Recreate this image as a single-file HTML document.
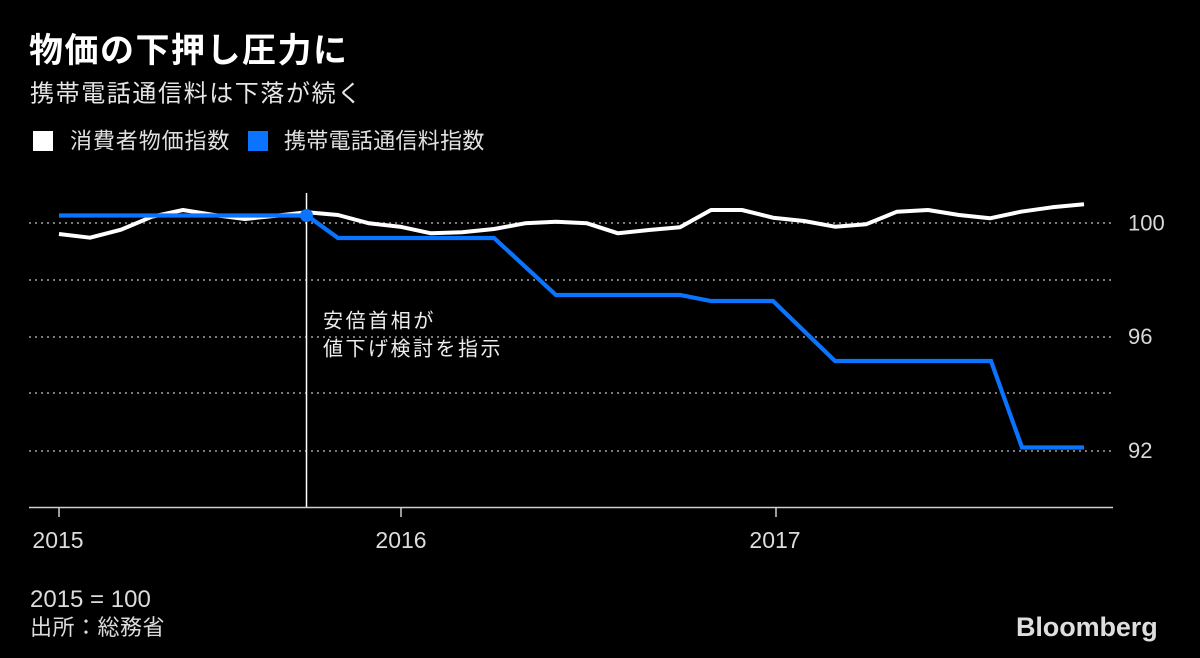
<!DOCTYPE html>
<html><head><meta charset="utf-8"><style>
html,body{margin:0;padding:0;background:#000;}
svg{display:block;}
text{font-family:"Liberation Sans","Noto Sans CJK JP",sans-serif;}
</style></head><body>
<svg width="1200" height="658" viewBox="0 0 1200 658" xmlns="http://www.w3.org/2000/svg">
<rect width="1200" height="658" fill="#000"/>
<text x="29" y="62" font-size="34" font-weight="bold" letter-spacing="1.5" fill="#fff">物価の下押し圧力に</text>
<text x="30" y="101.5" font-size="24" letter-spacing="1.6" fill="#e6e6e6">携帯電話通信料は下落が続く</text>
<rect x="33" y="131" width="20" height="20" fill="#fff"/>
<text x="70" y="148.5" font-size="22" letter-spacing="0.9" fill="#e0e0e0">消費者物価指数</text>
<rect x="248" y="131" width="20" height="20" fill="#0a74ff"/>
<text x="284" y="148.5" font-size="22" letter-spacing="0.3" fill="#e0e0e0">携帯電話通信料指数</text>
<g stroke="#7a7a7a" stroke-width="2" stroke-dasharray="2,4">
<line x1="29" y1="223" x2="1113" y2="223"/>
<line x1="29" y1="280" x2="1113" y2="280"/>
<line x1="29" y1="337" x2="1113" y2="337"/>
<line x1="29" y1="393" x2="1113" y2="393"/>
<line x1="29" y1="451" x2="1113" y2="451"/>
</g>
<g font-size="22" fill="#d8d8d8">
<text x="1128" y="230.5">100</text>
<text x="1128" y="344">96</text>
<text x="1128" y="458">92</text>
</g>
<line x1="306.5" y1="193" x2="306.5" y2="507" stroke="#fff" stroke-width="1.5"/>
<text x="323" y="327.5" font-size="20" letter-spacing="2.6" fill="#eee">安倍首相が</text>
<text x="323" y="355.5" font-size="20" letter-spacing="2.5" fill="#eee">値下げ検討を指示</text>
<polyline fill="none" stroke="#fff" stroke-width="4" stroke-linejoin="round" points="59,234 90,237.7 121,229.7 152,216.7 183,210 214,215 245,219 276,215.7 307,212.3 338,215 369,223.3 400,226.7 431,233.3 462,232.3 494,229 525,223.3 556,221.7 587,223.3 618,233.3 649,230 680,227.3 711,210 742,210 773,217.7 804,221 835,226.7 866,224.3 897,211.7 928,210 959,215 990,218.3 1021,211.7 1052,207.3 1084,204.3"/>
<polyline fill="none" stroke="#0a74ff" stroke-width="4.2" stroke-linejoin="miter" points="59,215.5 307,215.5 338,238 494,238 556,295 680,295 711,301 773,301 835,361 991,361 1022,447.5 1084,447.5"/>
<circle cx="306.5" cy="215.5" r="6.5" fill="#0a74ff"/>
<line x1="29" y1="507.5" x2="1113" y2="507.5" stroke="#cfcfcf" stroke-width="1.5"/>
<g stroke="#cfcfcf" stroke-width="1.5">
<line x1="59" y1="507" x2="59" y2="517"/>
<line x1="401" y1="507" x2="401" y2="517"/>
<line x1="776" y1="507" x2="776" y2="517"/>
</g>
<g font-size="23" fill="#dcdcdc" text-anchor="middle">
<text x="58" y="548">2015</text>
<text x="401" y="548">2016</text>
<text x="775" y="548">2017</text>
</g>
<text x="30" y="607" font-size="24" fill="#dcdcdc">2015 = 100</text>
<text x="30" y="635" font-size="22" letter-spacing="0.5" fill="#dcdcdc">出所：総務省</text>
<text x="1016" y="636" font-size="27" font-weight="bold" fill="#dedede" letter-spacing="-0.1">Bloomberg</text>
</svg>
</body></html>
